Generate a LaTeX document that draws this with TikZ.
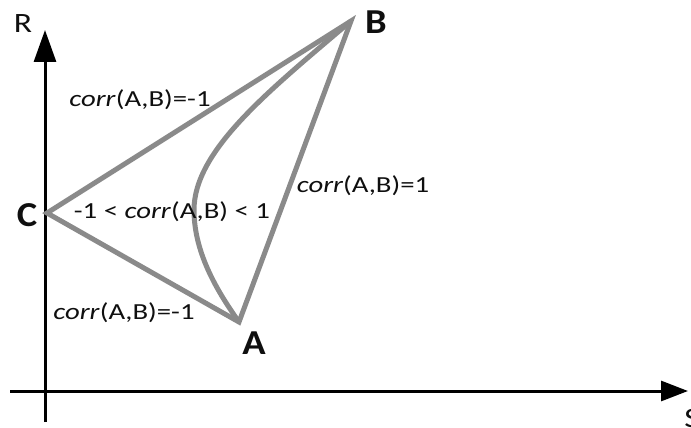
\documentclass[tikz,border=0pt]{standalone}
\usepackage{graphicx}
\usepackage{fontspec}
\setmainfont{Carlito}
\usetikzlibrary{arrows.meta}
\definecolor{edgegrey}{RGB}{138,138,138}
\definecolor{txt}{RGB}{15,15,15}
\newcommand{\wide}[2][1.25]{\scalebox{#1}[1]{#2}}
\newcommand{\corr}{\textit{corr}(A,B)}
\tikzset{
  axis/.style={line width=3pt, black},
  edge/.style={line width=5pt, edgegrey},
  lbl/.style={font=\fontsize{23}{27}\selectfont, text=txt, inner sep=0pt},
  vert/.style={font=\fontsize{35}{40}\selectfont\bfseries, text=txt, inner sep=0pt},
  axlbl/.style={font=\fontsize{28}{32}\selectfont, text=txt, inner sep=0pt}
}
\begin{document}
\begin{tikzpicture}[x=1pt,y=-1pt]
\useasboundingbox (0,0) rectangle (691,428);
% axes
\coordinate (o1) at (45,422);
\coordinate (rtip) at (45,30);
\coordinate (o2) at (10,391);
\coordinate (stip) at (688,391);
\draw[axis,-{Triangle[length=32pt,width=22pt]}] (o1) -- (rtip);
\draw[axis,-{Triangle[length=27pt,width=20pt]}] (o2) -- (stip);
\node[axlbl] (R) at (23,24) {\wide[1.2]{R}};
\node[axlbl] (S) at (692,419) {\wide[1.2]{S}};
% vertices
\coordinate (B) at (351,21);
\coordinate (C) at (47,213);
\coordinate (A) at (239,322);
\coordinate (M) at (194,210);
\draw[edge] (B) -- (C) -- (A) -- cycle;
\draw[edge] (B) .. controls (270,90) and (194,150) .. (M)
              .. controls (194,255) and (220,295) .. (A);
\node[vert] (lB) at (376,22) {\wide[1.1]{B}};
\node[vert] (lC) at (27,215) {\wide[1.1]{C}};
\node[vert] (lA) at (254,343) {\wide[1.1]{A}};
% labels
\node[lbl] (t1) at (140,100) {\wide{\corr=-1}};
\node[lbl] (t2) at (363,186) {\wide{\corr=1}};
\node[lbl] (t3) at (172,212) {\wide{-1 < \corr{} < 1}};
\node[lbl] (t4) at (124,313) {\wide{\corr=-1}};
\end{tikzpicture}
\end{document}
